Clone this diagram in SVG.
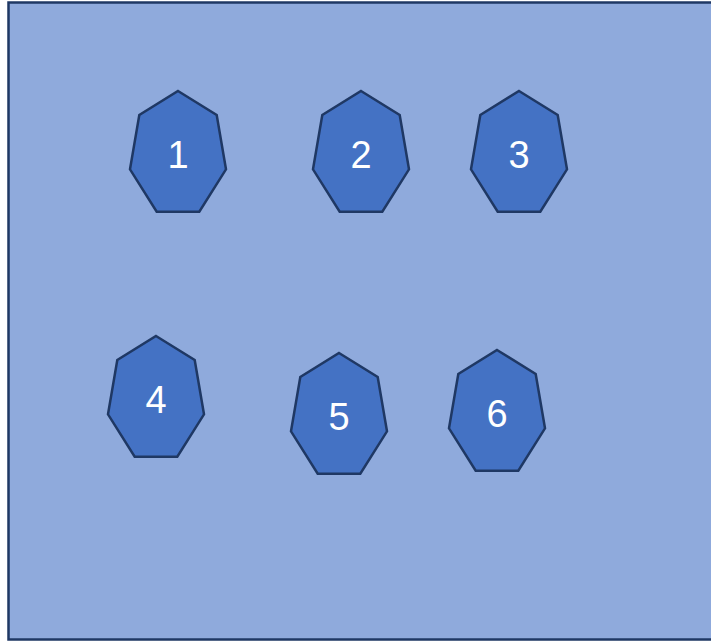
<svg xmlns="http://www.w3.org/2000/svg" width="711" height="641" viewBox="0 0 711 641">
<defs>
<style>
.bg{fill:#8FAADC;stroke:#1F3864;stroke-width:2.5}
.hep{fill:#4472C4;stroke:#1F3864;stroke-width:2.5;stroke-linejoin:miter}
.lbl{font-family:"Liberation Sans","Open Sans",sans-serif;font-size:38px;fill:#FFFFFF;text-anchor:middle}
</style>
<polygon id="hept" class="hep" points="0,0 38.7,24 48,78.3 21.3,120.7 -21.3,120.7 -48,78.3 -38.7,24"/>
</defs>
<rect class="bg" x="8.5" y="2.5" width="710" height="637"/>
<g id="connectors"/>
<g id="node1"><use href="#hept" x="178" y="91"/><text class="lbl" x="178" y="168">1</text></g>
<g id="node2"><use href="#hept" x="361" y="91"/><text class="lbl" x="361" y="168">2</text></g>
<g id="node3"><use href="#hept" x="519" y="91"/><text class="lbl" x="519" y="168">3</text></g>
<g id="node4"><use href="#hept" x="156" y="336"/><text class="lbl" x="156" y="413">4</text></g>
<g id="node5"><use href="#hept" x="339" y="353"/><text class="lbl" x="339" y="430">5</text></g>
<g id="node6"><use href="#hept" x="497" y="350"/><text class="lbl" x="497" y="427">6</text></g>
</svg>
